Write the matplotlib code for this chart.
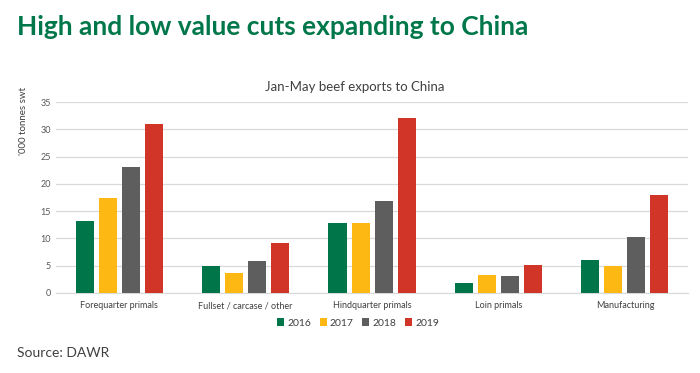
import matplotlib
matplotlib.use("Agg")
import matplotlib.pyplot as plt
import numpy as np

plt.rcParams['font.family'] = ['Lato', 'DejaVu Sans']

# data ('000 tonnes swt)
categories = ['Forequarter primals', 'Fullset / carcase / other', 'Hindquarter primals',
              'Loin primals', 'Manufacturing']
years = ['2016', '2017', '2018', '2019']
v2016 = [13.2, 5.0, 12.9, 1.8, 6.1]
v2017 = [17.4, 3.6, 12.8, 3.3, 4.9]
v2018 = [23.0, 5.9, 16.9, 3.2, 10.3]
v2019 = [30.9, 9.2, 32.1, 5.1, 18.0]
series = [v2016, v2017, v2018, v2019]
colors = ['#00754A', '#FDB813', '#5E5E5E', '#D13528']

fig = plt.figure(figsize=(7, 3.73), dpi=100)
ax = fig.add_axes([0.08, 0.2145, 0.903, 0.512])

x = np.arange(len(categories))
w = 0.143
step = 0.182
for i, (vals, c) in enumerate(zip(series, colors)):
    ax.bar(x + (i - 1.5) * step, vals, width=w, color=c, label=years[i], zorder=3)

ax.set_xlim(-0.5, len(categories) - 0.5)
ax.set_ylim(0, 35)
ax.set_yticks(range(0, 36, 5))
ax.grid(axis='y', color='#D9D9D9', linewidth=0.9, zorder=0)
for s in ['top', 'right', 'left']:
    ax.spines[s].set_visible(False)
ax.spines['bottom'].set_color('#D9D9D9')
ax.set_xticks(x)
ax.set_xticklabels(categories, fontsize=6.5, color='#404040')
ax.tick_params(axis='both', length=0, labelsize=6.5, colors='#595959')
ax.tick_params(axis='x', pad=6, labelcolor='#404040')
ax.set_ylabel("'000 tonnes swt", fontsize=7, color='#404040')
ax.yaxis.set_label_coords(-0.045, 0.9)

ax.legend(loc='center', bbox_to_anchor=(358 / 700, 1 - 323 / 373),
          bbox_transform=fig.transFigure, ncol=4, frameon=False, fontsize=7.5,
          handlelength=0.7, handleheight=0.7, handletextpad=0.3, columnspacing=0.8,
          labelcolor='#404040')

fig.text(355 / 700, 1 - 87 / 373, 'Jan-May beef exports to China', ha='center', va='center',
         fontsize=9.5, color='#404040')
fig.text(17 / 700, 1 - 27 / 373, 'High and low value cuts expanding to China', ha='left',
         va='center', fontsize=19, fontweight='bold', color='#00774A')
fig.text(17 / 700, 1 - 353 / 373, 'Source: DAWR', ha='left', va='center',
         fontsize=10, color='#404040')

fig.savefig('out.png', dpi=100)
